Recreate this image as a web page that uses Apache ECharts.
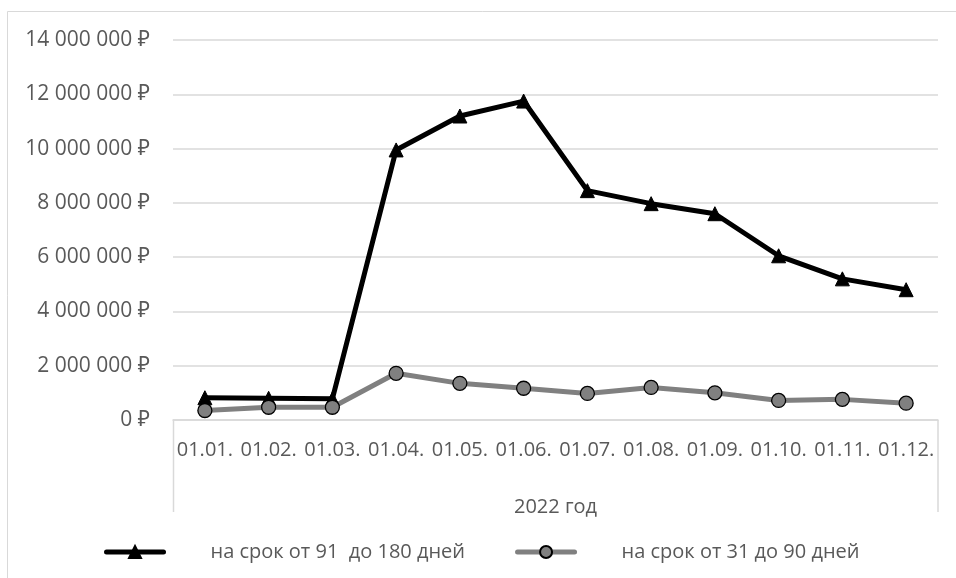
<!DOCTYPE html>
<html><head><meta charset="utf-8">
<script src="https://cdn.jsdelivr.net/npm/echarts@6/dist/echarts.min.js"></script>
<style>html,body{margin:0;padding:0;background:#fff}#c{width:956px;height:578px}</style>
</head><body><div id="c"></div>
<script>
const categories = ['01.01.','01.02.','01.03.','01.04.','01.05.','01.06.','01.07.','01.08.','01.09.','01.10.','01.11.','01.12.'];
const seriesLong = [820000, 800000, 780000, 9950000, 11200000, 11750000, 8450000, 7970000, 7600000, 6050000, 5200000, 4800000];
const seriesShort = [350000, 470000, 470000, 1720000, 1350000, 1170000, 980000, 1200000, 1000000, 720000, 760000, 620000];
const nameLong = 'на срок от 91  до 180 дней';
const nameShort = 'на срок от 31 до 90 дней';
const groupLabel = '2022 год';

const FONT = "'Open Sans', 'Noto Sans', sans-serif";
const TXT = '#595959';
const FS = 20;
const chart = echarts.init(document.getElementById('c'));
function fmt(v){ return String(v).replace(/\B(?=(\d{3})+(?!\d))/g, ' ') + ' ₽'; }
chart.setOption({
  animation: false,
  backgroundColor: '#fff',
  grid: { left: 173, right: 18, top: 40, bottom: 158 },
  xAxis: {
    type: 'category', data: categories, boundaryGap: true,
    axisLine: { lineStyle: { color: '#d9d9d9', width: 1.5 } },
    axisTick: { show: false },
    axisLabel: { color: TXT, fontFamily: FONT, fontSize: FS, margin: 20, interval: 0, hideOverlap: false },
    name: groupLabel, nameLocation: 'middle', nameGap: 77,
    nameTextStyle: { color: TXT, fontFamily: FONT, fontSize: FS }
  },
  yAxis: {
    type: 'value', min: 0, max: 14000000, interval: 2000000,
    axisLine: { show: false }, axisTick: { show: false },
    splitLine: { lineStyle: { color: '#d9d9d9', width: 1.5 } },
    axisLabel: { color: TXT, fontFamily: FONT, fontSize: 21, margin: 23, formatter: fmt }
  },
  legend: {
    top: 537, left: 99, itemGap: 50,
    itemWidth: 57, itemHeight: 15,
    lineStyle: { width: 5, cap: 'round' },
    textStyle: { color: TXT, fontFamily: FONT, fontSize: FS, padding: [0,0,0,42] },
    data: [nameLong, nameShort]
  },
  series: [
    { name: nameLong, type: 'line', data: seriesLong, symbol: 'triangle', symbolSize: 14,
      lineStyle: { color: '#000', width: 5 }, itemStyle: { color: '#000', borderColor: '#000', borderWidth: 1 } },
    { name: nameShort, type: 'line', data: seriesShort, symbol: 'circle', symbolSize: 14,
      lineStyle: { color: '#808080', width: 5 }, itemStyle: { color: '#808080', borderColor: '#000', borderWidth: 1.3 } }
  ],
  graphic: [
    { type: 'rect', shape: { x: 7.5, y: 11.5, width: 1000, height: 1000 }, style: { fill: null, stroke: '#d9d9d9', lineWidth: 1 }, silent: true, z: -1 },
    { type: 'line', shape: { x1: 173.5, y1: 420, x2: 173.5, y2: 512 }, style: { stroke: '#d9d9d9', lineWidth: 1.5 } },
    { type: 'line', shape: { x1: 938, y1: 420, x2: 938, y2: 512 }, style: { stroke: '#d9d9d9', lineWidth: 1.5 } }
  ]
});
</script></body></html>
